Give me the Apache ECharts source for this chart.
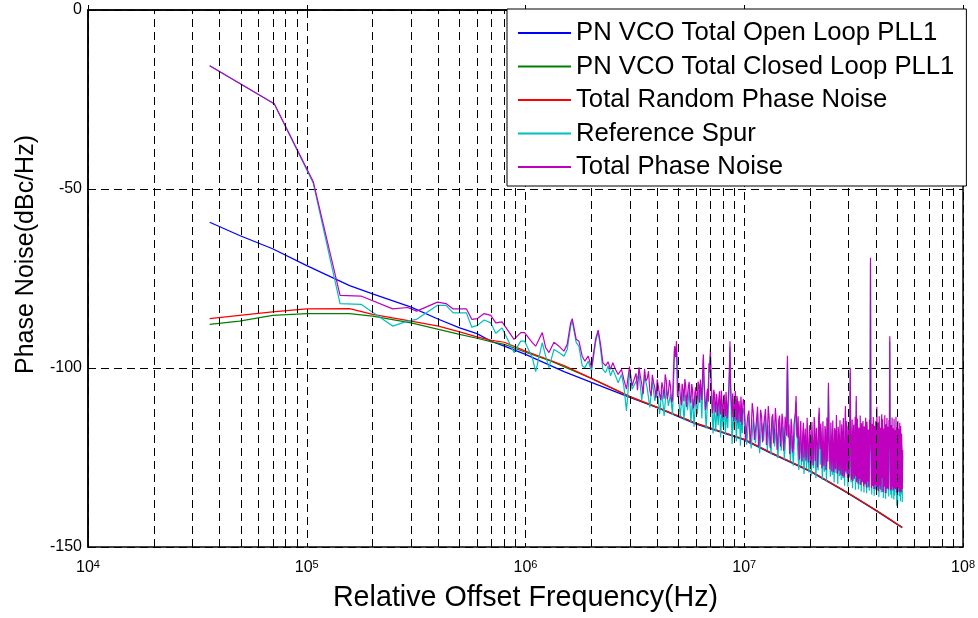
<!DOCTYPE html>
<html>
<head>
<meta charset="utf-8">
<script src="https://cdn.jsdelivr.net/npm/echarts@6/dist/echarts.min.js"></script>
<style>
  html, body { margin: 0; padding: 0; background: #fff; }
  #chart { width: 978px; height: 618px; }
</style>
</head>
<body>
<div id="chart"></div>
<script>
////--------------------------------------------------------------------////
// series names (legend order)
const seriesNames = [
    'PN VCO Total Open Loop PLL1',
    'PN VCO Total Closed Loop PLL1',
    'Total Random Phase Noise',
    'Reference Spur',
    'Total Phase Noise'
];
const seriesColors = ['#0000ff', '#008000', '#ff0000', '#00bfbf', '#bf00bf'];

// smooth curves: [offset freq Hz, dBc/Hz]
const openLoopPts = [
    [36e3,-59.3],[49.3e3,-63.0],[69.8e3,-66.7],[1e5,-71.4],[157e3,-77.0],[2e5,-79.3],[3e5,-83.0],
    [4e5,-86.4],[5e5,-88.8],[6e5,-90.4],[7e5,-92.6],[8e5,-93.9],[1e6,-96.2],[1.5e6,-101.0],
    [2e6,-104.0],[3e6,-108.2],[4e6,-111.1],[5e6,-113.6],[6e6,-115.6],[7.7e6,-117.8],[1e7,-120.1],
    [1.32e7,-123.8],[2e7,-128.9],[2.96e7,-134.9],[3.97e7,-139.7],[5.27e7,-144.6]
];
const closedLoopPts = [
    [36e3,-87.8],[49.3e3,-86.9],[69.8e3,-85.3],[1e5,-84.8],[157e3,-84.8],[2e5,-85.5],[3e5,-87.4],
    [4e5,-89.2],[5e5,-90.6],[6e5,-91.7],[7e5,-92.7],[8e5,-93.4],[1e6,-95.6],[1.3e6,-98.0],
    [2e6,-102.9],[3e6,-108.0],[3.93e6,-110.8],[5e6,-113.4],[6e6,-115.4],[7.7e6,-117.6],[1e7,-119.9],
    [1.32e7,-123.6],[2e7,-128.7],[2.96e7,-134.8],[3.97e7,-139.6],[5.27e7,-144.5]
];
const randomPts = [
    [36e3,-86.2],[49.3e3,-85.3],[69.8e3,-84.3],[1e5,-83.5],[157e3,-83.4],[2e5,-85.0],[3e5,-86.9],
    [4e5,-88.3],[5e5,-89.9],[6e5,-91.3],[7e5,-92.3],[8e5,-92.8],[1e6,-95.3],[1.5e6,-99.3],
    [2e6,-102.9],[3e6,-108.0],[3.93e6,-110.8],[5e6,-113.4],[6e6,-115.4],[7.7e6,-117.6],[1e7,-119.9],
    [1.32e7,-123.6],[2e7,-128.7],[2.96e7,-134.8],[3.97e7,-139.6],[5.27e7,-144.5]
];

// low-offset part of spur / total curves: [freq, dBc/Hz]
const totalLowPts = [
    [36e3,-15.6],[71e3,-26.2],[107e3,-47.9],[142e3,-79.7],[177e3,-79.9],[247e3,-83.5],[289e3,-83.1],
    [318e3,-84.1],[396e3,-81.6],[433e3,-82.0],[467e3,-83.5],[537e3,-83.5],[568e3,-86.4],[603e3,-86.2],
    [647e3,-84.8],[694e3,-85.3],[731e3,-87.4],[781e3,-87.1],[886e3,-92.0],[951e3,-90.1],[990e3,-90.1],
    [1.074e6,-92.9],[1.113e6,-93.9],[1.193e6,-90.1],[1.236e6,-94.3],[1.280e6,-95.7],[1.349e6,-92.8],
    [1.422e6,-93.9],[1.498e6,-95.3],[1.551e6,-93.4],[1.608e6,-87.4],[1.635e6,-86.2],[1.705e6,-92.0],
    [1.754e6,-92.5],[1.816e6,-96.7],[1.868e6,-98.1],[1.934e6,-96.7],[2.004e6,-99.9],[2.090e6,-92.0],
    [2.148e6,-89.4],[2.203e6,-93.4],[2.257e6,-98.5],[2.322e6,-99.4],[2.386e6,-98.3],[2.447e6,-100.4],
    [2.507e6,-98.5],[2.579e6,-100.4],[2.651e6,-101.8],[2.747e6,-100.4],[2.814e6,-103.2],[2.894e6,-105.9],
    [2.988e6,-99.6],[3.070e6,-105.0]
];
const spurLowPts = [
    [36e3,-15.6],[71e3,-26.2],[107e3,-48.3],[142e3,-82.0],[177e3,-82.2],[247e3,-88.3],[289e3,-86.9],
    [318e3,-86.4],[396e3,-82.5],[433e3,-82.5],[467e3,-84.6],[537e3,-84.6],[568e3,-88.6],[603e3,-88.1],
    [647e3,-86.6],[694e3,-87.4],[731e3,-90.3],[781e3,-88.8],[886e3,-95.7],[951e3,-92.5],[990e3,-92.5],
    [1.074e6,-97.1],[1.113e6,-101.0],[1.193e6,-92.9],[1.236e6,-96.7],[1.280e6,-99.9],[1.349e6,-94.8],
    [1.422e6,-95.7],[1.498e6,-96.7],[1.551e6,-94.8],[1.608e6,-88.3],[1.635e6,-86.9],[1.705e6,-92.9],
    [1.754e6,-93.9],[1.816e6,-99.4],[1.868e6,-99.9],[1.934e6,-98.1],[2.004e6,-100.8],[2.090e6,-92.9],
    [2.148e6,-89.7],[2.203e6,-94.8],[2.257e6,-100.4],[2.322e6,-101.3],[2.386e6,-99.4],[2.447e6,-102.2],
    [2.507e6,-100.4],[2.579e6,-102.2],[2.651e6,-104.1],[2.747e6,-101.8],[2.814e6,-105.0],[2.894e6,-112.0],
    [2.988e6,-101.3],[3.070e6,-105.9]
];

// mid offsets: 3.2 MHz .. 9.9 MHz, one value every 0.1 MHz
const midStart = 3.2e6;
const midStep  = 1e5;
const totalMid = [
    -101.5,-99.8,-104.6,-100.2,-103.0,-106.3,-101.9,-105.5,
    -103.2,-107.4,-104.0,-108.6,-103.5,-106.9,-105.2,-108.9,-93.9,-92.5,
    -105.6,-108.0,-104.4,-109.3,-105.0,-107.7,-103.9,-109.8,-106.1,-110.2,
    -105.3,-108.5,-104.7,-103.2,-108.9,-96.2,-107.3,-110.5,-105.8,-98.7,
    -94.8,-106.9,-111.6,-107.0,-112.4,-108.2,-110.9,-106.5,-113.0,-108.8,
    -111.7,-107.4,-113.5,-109.0,-111.3,-105.6,-92.5,-108.3,-113.8,-109.1,
    -112.7,-106.4,-114.6,-108.9,-112.0,-109.6,-115.1,-110.3,-113.4,-108.7
];
// total noise between those samples: 3.25 MHz .. 9.85 MHz
const midStartB = 3.25e6;
const totalMidB = [
    -106.2,-102.4,-107.3,-103.6,-100.9,-107.8,-104.1,-108.4,
    -102.7,-109.0,-105.5,-101.8,-108.7,-103.4,-109.6,-100.6,-97.0,-108.1,
    -104.2,-110.4,-106.0,-103.1,-110.9,-105.3,-108.6,-104.5,-111.3,-106.7,
    -110.1,-103.8,-109.7,-106.2,-101.5,-104.0,-111.8,-106.9,-109.4,-101.2,
    -103.5,-112.6,-106.1,-110.8,-107.2,-113.4,-108.5,-111.6,-106.3,-113.9,
    -108.0,-112.2,-106.7,-114.1,-108.9,-101.0,-104.4,-110.7,-107.1,-114.8,
    -109.5,-113.0,-107.8,-115.3,-109.2,-112.6,-108.0,-115.9,-110.4
];
const spurMid = [
    -103.8,-101.5,-108.9,-102.3,-105.6,-111.0,-103.9,-109.2,
    -105.4,-112.8,-106.3,-113.4,-105.7,-110.6,-107.3,-113.1,-95.2,-94.0,
    -108.4,-113.5,-106.8,-114.6,-107.5,-111.8,-106.0,-115.2,-108.7,-116.4,
    -107.6,-112.9,-106.9,-105.4,-114.1,-97.6,-110.2,-116.9,-108.1,-100.3,
    -96.1,-109.5,-118.3,-109.6,-117.7,-110.9,-116.0,-108.8,-119.4,-111.2,
    -116.5,-109.9,-118.6,-111.4,-116.8,-108.0,-94.1,-110.9,-121.2,-111.7,
    -117.3,-108.8,-120.5,-111.5,-117.0,-112.1,-121.7,-112.9,-118.2,-111.3
];

// high offsets: 10 MHz .. 53 MHz, one value every 0.25 MHz
const highStart = 1e7;
const highStep  = 2.5e5;
const totalHigh = [
    -110.2,-116.8,-111.9,-118.3,-112.5,-117.4,-110.8,-119.0,-113.6,-116.1,
    -111.4,-118.7,-114.2,-119.5,-112.9,-117.8,-115.0,-120.2,-113.3,-118.9,
    -114.7,-120.6,-116.3,-96.6,-115.8,-121.3,-117.0,-122.4,-116.1,-107.8,
    -119.6,-123.8,-117.4,-122.9,-118.3,-125.0,-116.9,-123.5,-119.2,-124.6,
    -117.8,-125.7,-119.9,-123.1,-116.5,-126.2,-120.4,-124.0,-111.1,-122.7,
    -118.6,-126.8,-120.9,-124.4,-117.2,-127.3,-119.5,-104.1,-121.6,-126.0,
    -118.9,-125.4,-121.0,-127.6,-117.7,-124.8,-120.3,-128.1,-119.1,-125.9,
    -121.8,-127.0,-118.4,-126.5,-122.3,-128.6,-110.6,-125.1,-120.7,-129.0,
    -119.3,-126.2,-99.9,-127.7,-121.4,-129.5,-118.8,-126.9,-122.0,-130.1,
    -107.8,-127.3,-120.1,-129.8,-118.2,-128.4,-121.9,-130.6,-119.6,-127.8,
    -122.5,-130.9,-118.7,-128.0,-121.1,-131.2,-117.5,-129.3,-122.8,-130.4,
    -119.0,-69.2,-123.6,-131.5,-120.0,-128.7,-122.2,-132.0,-118.1,-129.9,
    -121.7,-131.8,-119.4,-130.3,-123.0,-132.4,-118.5,-129.6,-121.2,-131.0,
    -112.9,-130.7,-120.6,-132.7,-122.4,-129.1,-119.7,-133.0,-121.5,-131.3,
    -118.9,-130.0,-122.9,-132.2,-120.2,-91.1,-123.3,-131.6,-119.8,-132.9,
    -121.0,-130.5,-118.6,-133.1,-122.1,-131.9,-120.5,-129.4,-123.5,-132.6,
    -119.9,-134.3,-121.6,-130.8,-118.4,-132.1,-122.6,-133.6,-120.3,-131.4,
    -121.3,-133.8,-122.9
];
// total noise between those samples: 10.125 MHz .. 52.875 MHz
const highStartB = 1.0125e7;
const totalHighB = [
    -120.5,-113.4,-121.2,-109.8,-120.1,-114.6,-121.9,-111.7,-120.8,-114.0,
    -121.5,-110.6,-122.3,-113.9,-121.0,-111.2,-122.8,-114.5,-122.0,-112.8,
    -123.1,-113.6,-118.9,-119.4,-124.0,-114.2,-123.6,-115.9,-112.4,-118.7,
    -113.5,-125.6,-114.8,-126.1,-115.3,-120.7,-125.9,-113.9,-126.4,-116.0,
    -126.9,-115.1,-127.2,-113.7,-126.0,-116.7,-127.8,-114.3,-120.6,-115.5,
    -128.0,-114.9,-127.3,-116.2,-128.5,-113.8,-126.1,-117.9,-128.3,-115.2,
    -128.9,-114.7,-129.1,-116.8,-128.2,-113.1,-129.6,-116.4,-128.7,-114.6,
    -129.8,-115.7,-130.2,-114.0,-130.5,-118.3,-128.9,-114.9,-130.7,-116.1,
    -130.3,-112.9,-116.5,-131.2,-114.4,-131.6,-115.8,-130.8,-113.6,-121.5,
    -131.9,-114.1,-132.3,-116.6,-131.0,-113.3,-132.7,-115.4,-131.8,-114.8,
    -133.0,-116.3,-132.5,-113.9,-133.4,-115.0,-131.7,-117.2,-133.2,-114.4,
    -121.4,-123.0,-133.5,-115.6,-132.9,-113.7,-133.8,-116.1,-132.6,-114.9,
    -134.1,-110.8,-133.3,-115.2,-134.4,-113.5,-132.8,-116.7,-134.0,-115.1,
    -127.5,-114.3,-134.6,-116.9,-133.1,-113.2,-134.9,-115.7,-133.7,-114.0,
    -133.5,-116.4,-133.9,-114.6,-118.2,-121.0,-134.2,-115.9,-133.9,-113.8,
    -133.2,-116.8,-134.0,-114.2,-133.6,-117.3,-133.8,-113.6,-134.8,-116.5,
    -134.2,-114.8,-133.5,-117.0,-134.4,-115.3,-134.7,-116.2,-134.6,-118.4,
    -122.7,-133.9
];
const spurHigh = [
    -111.9,-121.4,-113.7,-122.5,-114.3,-121.0,-112.6,-123.8,-115.4,-120.3,
    -113.2,-122.9,-116.0,-124.1,-114.6,-121.9,-116.8,-125.2,-115.0,-123.1,
    -116.4,-125.5,-118.0,-98.0,-117.5,-126.0,-118.8,-127.3,-117.9,-109.4,
    -121.3,-128.5,-119.1,-127.2,-120.1,-129.6,-118.6,-128.0,-121.0,-129.2,
    -119.5,-130.1,-121.6,-127.9,-118.2,-130.8,-122.1,-128.6,-112.7,-127.0,
    -120.3,-131.2,-122.6,-129.0,-118.9,-131.7,-121.2,-105.6,-123.3,-130.4,
    -120.6,-129.9,-122.7,-132.0,-119.4,-129.3,-122.0,-132.4,-120.8,-130.2,
    -123.5,-131.3,-120.1,-130.8,-124.0,-132.9,-112.2,-129.5,-122.4,-133.2,
    -121.0,-130.6,-101.4,-131.9,-123.1,-133.6,-120.5,-131.1,-123.7,-134.0,
    -109.3,-131.5,-121.8,-133.9,-119.9,-132.6,-123.6,-134.5,-121.3,-132.0,
    -124.2,-134.8,-120.4,-132.2,-122.8,-135.0,-119.2,-133.4,-124.5,-134.3,
    -120.7,-70.6,-125.3,-135.3,-121.7,-132.8,-123.9,-135.7,-119.8,-133.9,
    -123.4,-135.5,-121.1,-134.2,-124.7,-136.0,-120.2,-133.7,-122.9,-134.8,
    -114.5,-134.6,-122.3,-136.3,-124.1,-133.2,-121.4,-136.5,-123.2,-135.0,
    -120.6,-133.9,-124.6,-135.9,-121.9,-92.6,-125.0,-135.4,-121.5,-136.4,
    -122.7,-134.3,-120.3,-136.7,-123.8,-135.6,-122.2,-133.3,-125.2,-138.5,
    -121.6,-137.9,-123.3,-134.6,-120.1,-135.8,-124.3,-137.2,-122.0,-135.1,
    -123.0,-137.4,-124.6
];

// axis ticks
const yTicks = [0, -50, -100, -150];
const xDecades = [4, 5, 6, 7, 8];
////--------------------------------------------------------------------////
function grid_pairs(start, step, vals) {
    const out = [];
    for (let i = 0; i < vals.length; i++) out.push([start + i * step, vals[i]]);
    return out;
}
////-------------------////
function by_freq(a, b) { return a[0] - b[0]; }
////-------------------////
function minor_lines() {
    const lines = [];
    for (let d = xDecades[0]; d < xDecades[xDecades.length - 1]; d++) {
        for (let k = 2; k <= 9; k++) lines.push({ xAxis: k * Math.pow(10, d) });
    }
    return lines;
}
////-------------------////
const totalPts = totalLowPts.concat(
    grid_pairs(midStart, midStep, totalMid), grid_pairs(midStartB, midStep, totalMidB),
    grid_pairs(highStart, highStep, totalHigh), grid_pairs(highStartB, highStep, totalHighB)
).sort(by_freq);
const spurPts  = spurLowPts.concat(grid_pairs(midStart, midStep, spurMid), grid_pairs(highStart, highStep, spurHigh));
const allData  = [openLoopPts, closedLoopPts, randomPts, spurPts, totalPts];

const FONT = "'Liberation Sans', Arial, Helvetica, sans-serif";
const dash = [8, 5];

const series = [{
    name: 'grid',
    type: 'line',
    data: [],
    z: 1,
    silent: true,
    markLine: {
        silent: true,
        symbol: ['none', 'none'],
        label: { show: false },
        animation: false,
        lineStyle: { color: '#000', type: dash, width: 1 },
        data: minor_lines()
    }
}];
for (let i = 0; i < seriesNames.length; i++) {
    series.push({
        name: seriesNames[i],
        type: 'line',
        data: allData[i],
        showSymbol: false,
        symbol: 'none',
        z: 3,
        lineStyle: { color: seriesColors[i], width: 1.2 },
        itemStyle: { color: seriesColors[i] },
        emphasis: { disabled: true }
    });
}

const chart = echarts.init(document.getElementById('chart'), null, { renderer: 'canvas' });
chart.setOption({
    animation: false,
    backgroundColor: '#fff',
    textStyle: { fontFamily: FONT },
    grid: { left: 88, right: 13, top: 10, bottom: 70, show: true, borderColor: '#000', borderWidth: 1.5, backgroundColor: 'transparent' },
    legend: {
        data: seriesNames,
        orient: 'vertical',
        left: 507,
        top: 9,
        z: 20,
        icon: 'rect',
        itemWidth: 53,
        itemHeight: 2,
        itemGap: 7.5,
        padding: [11, 12, 6, 11],
        backgroundColor: '#fff',
        borderColor: '#000',
        borderWidth: 1,
        selectedMode: false,
        textStyle: { fontFamily: FONT, fontSize: 25.7, color: '#000', lineHeight: 25 }
    },
    xAxis: {
        type: 'log',
        logBase: 10,
        min: Math.pow(10, xDecades[0]),
        max: Math.pow(10, xDecades[xDecades.length - 1]),
        name: 'Relative Offset Frequency(Hz)',
        nameLocation: 'middle',
        nameGap: 37,
        nameTextStyle: { fontFamily: FONT, fontSize: 28.7, color: '#000' },
        axisLine: { show: true, lineStyle: { color: '#000', width: 1.5 } },
        axisTick: { show: true, inside: true, length: 5, lineStyle: { color: '#000' } },
        axisLabel: {
            margin: 12,
            color: '#000',
            showMinLabel: true,
            showMaxLabel: true,
            formatter: v => '{b|10}{s|' + Math.round(Math.log10(v)) + '}',
            rich: {
                b: { fontFamily: FONT, fontSize: 16, color: '#000', lineHeight: 18 },
                s: { fontFamily: FONT, fontSize: 11, color: '#000', lineHeight: 11, verticalAlign: 'top' }
            }
        },
        splitLine: { show: true, lineStyle: { color: '#000', type: dash, width: 1 } }
    },
    yAxis: {
        type: 'value',
        min: yTicks[yTicks.length - 1],
        max: yTicks[0],
        interval: 50,
        name: 'Phase Noise(dBc/Hz)',
        nameLocation: 'middle',
        nameGap: 48,
        nameTextStyle: { fontFamily: FONT, fontSize: 25, color: '#000', padding: [0, 0, 0, 48] },
        axisLine: { show: true, lineStyle: { color: '#000', width: 1.5 } },
        axisTick: { show: true, inside: true, length: 5, lineStyle: { color: '#000' } },
        axisLabel: { margin: 6, color: '#000', fontFamily: FONT, fontSize: 16 },
        splitLine: { show: true, lineStyle: { color: '#000', type: dash, width: 1 } }
    },
    series: series
});
window.addEventListener('resize', chart.resize);
</script>
</body>
</html>
